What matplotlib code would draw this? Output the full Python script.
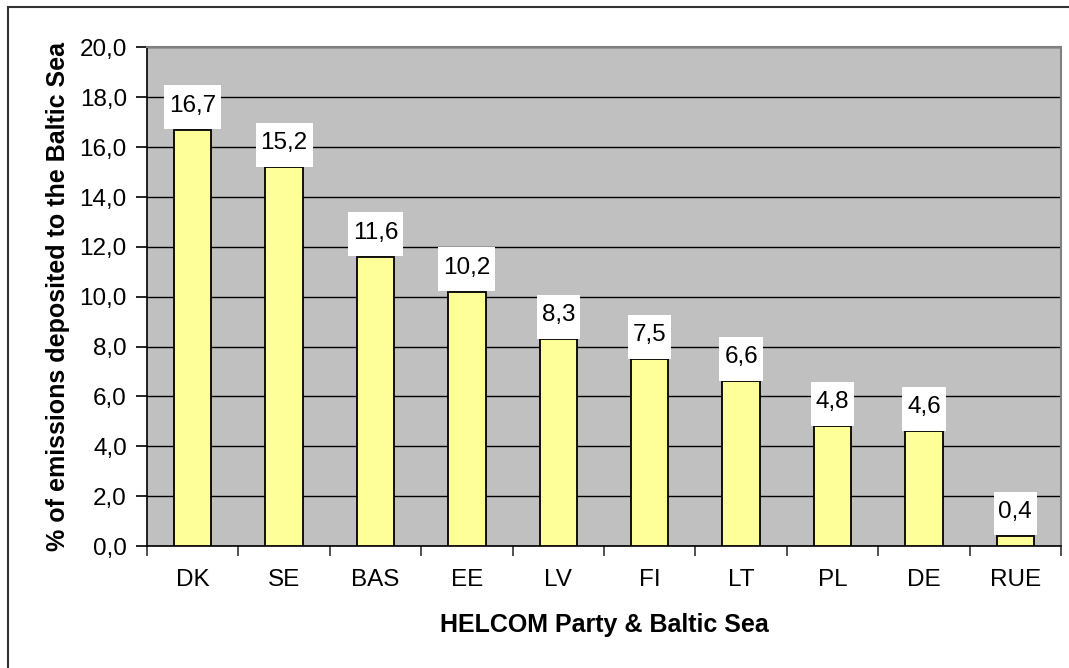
import matplotlib
matplotlib.use("Agg")
import matplotlib.pyplot as plt
from matplotlib.patches import Rectangle
from matplotlib.path import Path
import numpy as np

# Share of each party's emissions deposited to the Baltic Sea
parties = ["DK", "SE", "BAS", "EE", "LV", "FI", "LT", "PL", "DE", "RUE"]
deposited_pct = [16.7, 15.2, 11.6, 10.2, 8.3, 7.5, 6.6, 4.8, 4.6, 0.4]
y_ticks = [0, 2, 4, 6, 8, 10, 12, 14, 16, 18, 20]

plt.rcParams["font.family"] = ["Liberation Sans", "DejaVu Sans"]
FS = 17.5
FS_TITLE = 18

W, H = 1069, 668
fig = plt.figure(figsize=(W / 100, H / 100), dpi=100)
fig.patch.set_facecolor("white")

# chart frame (open to the right and bottom edges)
fig.patches.append(Rectangle((8 / W, -0.1), 1.2, 1 - 7 / H + 0.1,
                             transform=fig.transFigure, fill=False,
                             edgecolor="#333333", linewidth=1.5, zorder=0))

L, R, T, B = 147, 1061, 47.5, 546
ax = fig.add_axes([L / W, 1 - B / H, (R - L) / W, (B - T) / H])
ax.set_facecolor("#C0C0C0")

x = np.arange(len(parties))
ax.bar(x, deposited_pct, width=0.41, color="#FFFF99", edgecolor="black",
       linewidth=1.3, zorder=3)


def label_box(x0, y0, width, height, mutation_size):
    """Rectangular box with narrow side padding and taller top/bottom padding."""
    px = 0.2 * mutation_size
    pt = 0.38 * mutation_size
    pb = 0.52 * mutation_size
    xa, xb = x0 - px, x0 + width + px
    ya, yb = y0 - pb, y0 + height + pt
    return Path([(xa, ya), (xb, ya), (xb, yb), (xa, yb), (xa, ya)],
                closed=True)


for xi, v in zip(x, deposited_pct):
    ax.annotate(f"{v:.1f}".replace(".", ","), (xi, v), xytext=(0, 9.5),
                textcoords="offset points", ha="center", va="bottom",
                fontsize=FS, zorder=4,
                bbox=dict(boxstyle=label_box, facecolor="white",
                          edgecolor="none"))

ax.set_xlim(-0.5, len(parties) - 0.5)
ax.set_ylim(0, 20)
ax.set_yticks(y_ticks)
ax.set_yticklabels([f"{t:.1f}".replace(".", ",") for t in y_ticks], fontsize=FS)
ax.yaxis.grid(True, color="black", linewidth=1.0, zorder=1)
ax.set_axisbelow(True)

ax.set_xticks(x)
ax.set_xticklabels(parties, fontsize=FS)
ax.set_xticks(np.arange(len(parties) + 1) - 0.5, minor=True)
ax.tick_params(axis="x", which="major", length=0, pad=16.5)
ax.tick_params(axis="x", which="minor", length=7, width=1.2, color="#333333")
ax.tick_params(axis="y", length=8, width=1.2, pad=6.5)

for side in ("left", "bottom"):
    ax.spines[side].set_color("black")
    ax.spines[side].set_linewidth(1.2)
for side in ("top", "right"):
    ax.spines[side].set_color("#808080")
    ax.spines[side].set_linewidth(1.5)

ax.set_xlabel("HELCOM Party & Baltic Sea", fontsize=FS_TITLE, fontweight="bold",
              labelpad=16)
ax.set_ylabel("% of emissions deposited to the Baltic Sea", fontsize=FS_TITLE,
              fontweight="bold", labelpad=7)

fig.savefig("out.png", dpi=100)
